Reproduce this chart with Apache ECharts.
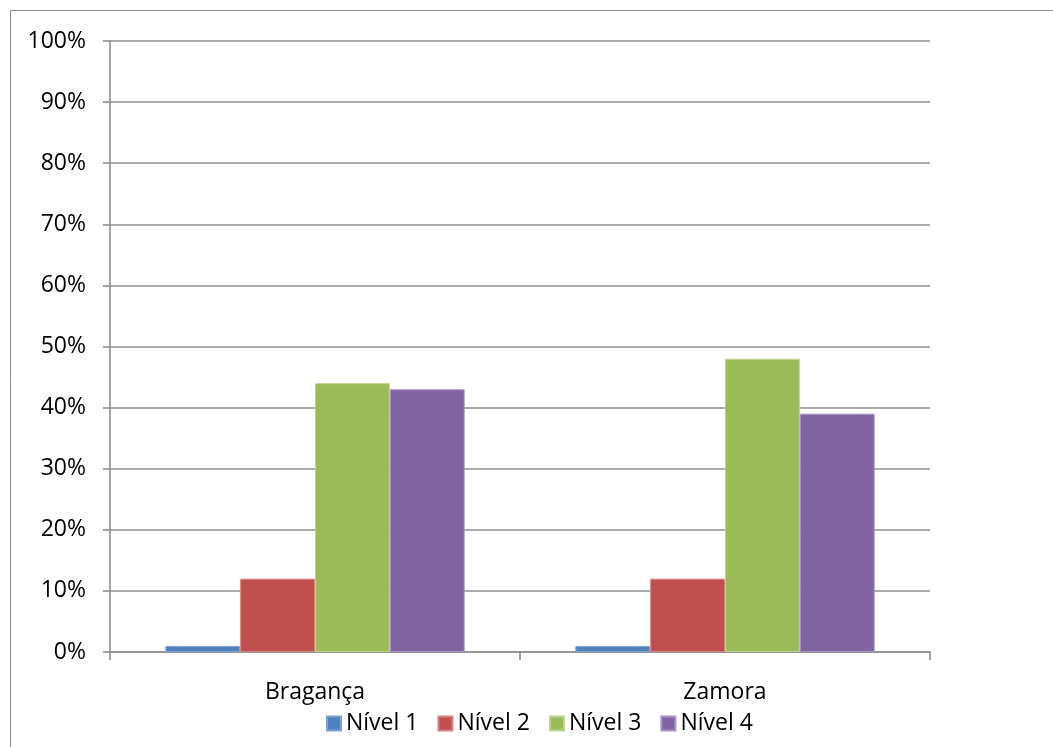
<!DOCTYPE html>
<html>
<head>
<meta charset="utf-8">
<script src="https://cdn.jsdelivr.net/npm/echarts@6/dist/echarts.min.js"></script>
<style>
  html, body { margin: 0; padding: 0; background: #fff; }
  #chart { width: 1053px; height: 747px; }
</style>
</head>
<body>
<div id="chart"></div>
<script>
// Regions compared
const categories = ['Bragança', 'Zamora'];
// Share of respondents at each level (%)
const nivel1 = [1, 1];
const nivel2 = [12, 12];
const nivel3 = [44, 48];
const nivel4 = [43, 39];
const seriesNames = ['Nível 1', 'Nível 2', 'Nível 3', 'Nível 4'];

const colors = ['#4F81BD', '#C0504D', '#9BBB59', '#8064A2'];
const edges = ['#7FA3D1', '#D68482', '#BDD48E', '#A893C3'];
const font = 'Open Sans';
const lineGray = '#8f8f8f';

const chart = echarts.init(document.getElementById('chart'), null, { renderer: 'canvas' });

const values = [nivel1, nivel2, nivel3, nivel4];
const series = seriesNames.map((name, i) => ({
  name: name,
  type: 'bar',
  data: values[i],
  barGap: '0%',
  barCategoryGap: '27%',
  itemStyle: { color: colors[i], borderColor: edges[i], borderWidth: 1 }
}));

chart.setOption({
  animation: false,
  backgroundColor: '#ffffff',
  color: colors,
  graphic: [{
    type: 'rect',
    silent: true,
    z: -10,
    shape: { x: 10.5, y: 10.5, width: 1200, height: 900 },
    style: { fill: 'none', stroke: '#8c8c8c', lineWidth: 1 }
  }],
  grid: { left: 110, right: 123, top: 41, bottom: 95, containLabel: false },
  legend: {
    data: seriesNames,
    bottom: 7,
    left: 321,
    itemWidth: 14,
    itemHeight: 14,
    itemGap: 19,
    icon: 'rect',
    textStyle: { fontFamily: font, fontSize: 23, color: '#000' }
  },
  xAxis: {
    type: 'category',
    data: categories,
    axisLine: { show: true, lineStyle: { color: lineGray, width: 1.6 } },
    axisTick: { show: true, length: 8, lineStyle: { color: lineGray, width: 1.6 } },
    axisLabel: { fontFamily: font, fontSize: 23, color: '#000', margin: 29 }
  },
  yAxis: {
    type: 'value',
    min: 0,
    max: 100,
    interval: 10,
    axisLine: { show: true, lineStyle: { color: lineGray, width: 1.6 } },
    axisTick: { show: true, length: 7, lineStyle: { color: lineGray, width: 1.6 } },
    axisLabel: { fontFamily: font, fontSize: 23, color: '#000', margin: 24, formatter: '{value}%' },
    splitLine: { show: true, lineStyle: { color: lineGray, width: 1.6 } }
  },
  series: series
});
</script>
</body>
</html>
